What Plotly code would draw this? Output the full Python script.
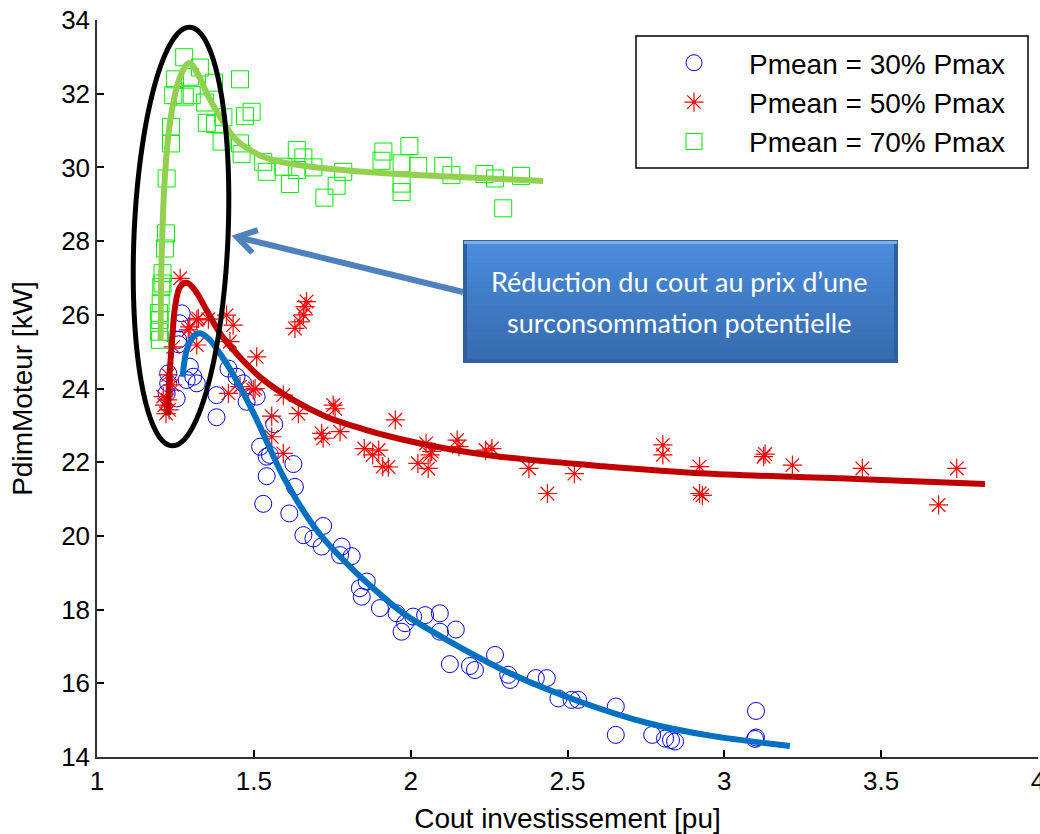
import math
import plotly.graph_objects as go

# ---------------- data ----------------
blue_x = [1.270, 1.264, 1.259, 1.227, 1.227, 1.222, 1.254, 1.296, 1.307, 1.318, 1.286, 1.381, 1.381,
          1.419, 1.445, 1.466, 1.509, 1.477, 1.520, 1.565, 1.541, 1.626, 1.541, 1.551, 1.631, 1.530,
          1.613, 1.721, 1.658, 1.690, 1.716, 1.780, 1.812, 1.775, 1.860, 1.838, 1.844, 1.902, 1.955,
          2.093, 2.046, 2.008, 1.982, 1.971, 2.093, 2.144, 2.125, 2.189, 2.205, 2.269, 2.311, 2.317,
          2.399, 2.434, 2.471, 2.513, 2.534, 2.654, 2.654, 2.770, 2.811, 2.830, 2.843, 3.101, 3.101,
          3.098, 1.260]
blue_y = [26.04, 25.77, 25.32, 24.41, 24.14, 23.87, 23.73, 24.59, 24.32, 24.14, 24.23, 23.82, 23.22,
          24.54, 24.32, 24.14, 23.78, 23.64, 22.42, 23.03, 22.15, 21.95, 21.62, 22.20, 21.33, 20.87,
          20.61, 20.27, 20.02, 19.93, 19.71, 19.71, 19.45, 19.48, 18.76, 18.58, 18.35, 18.04, 17.90,
          17.90, 17.85, 17.81, 17.63, 17.40, 17.40, 17.46, 16.52, 16.47, 16.36, 16.77, 16.23, 16.09,
          16.14, 16.14, 15.59, 15.55, 15.55, 15.37, 14.60, 14.60, 14.50, 14.46, 14.42, 15.25, 14.53,
          14.49, 25.20]

red_x = [1.265, 1.243, 1.291, 1.296, 1.318, 1.323, 1.355, 1.413, 1.434, 1.318, 1.424, 1.211, 1.215,
         1.220, 1.227, 1.225, 1.230, 1.240, 1.509, 1.419, 1.456, 1.498, 1.504, 1.594, 1.642, 1.557,
         1.557, 1.594, 1.668, 1.658, 1.647, 1.631, 1.663, 1.753, 1.759, 1.716, 1.775, 1.721, 1.951,
         1.852, 1.898, 1.879, 1.911, 1.929, 2.049, 2.023, 2.056, 2.062, 2.067, 2.148, 2.154, 2.259,
         2.239, 2.377, 2.436, 2.522, 2.804, 2.804, 2.921, 2.921, 2.930, 3.125, 3.130, 3.217, 3.440,
         3.683, 3.741]
red_y = [26.99, 25.13, 25.59, 25.67, 25.86, 25.90, 25.88, 25.99, 25.72, 25.18, 25.27, 23.78, 23.55,
         23.32, 24.37, 23.69, 23.42, 24.10, 24.86, 23.87, 24.05, 23.96, 24.00, 23.82, 23.32, 23.25,
         22.69, 22.24, 26.36, 26.00, 25.81, 25.63, 26.22, 23.55, 23.45, 22.78, 22.83, 22.65, 23.15,
         22.37, 22.33, 22.20, 21.88, 21.87, 22.51, 21.97, 21.83, 22.20, 22.29, 22.60, 22.42, 22.37,
         22.33, 21.83, 21.15, 21.69, 22.47, 22.20, 21.88, 21.15, 21.10, 22.15, 22.22, 21.92, 21.83,
         20.84, 21.83]

green_x = [1.278, 1.328, 1.249, 1.296, 1.373, 1.456, 1.243, 1.280, 1.302, 1.344, 1.493, 1.472, 1.236,
           1.350, 1.403, 1.376, 1.236, 1.397, 1.456, 1.461, 1.530, 1.541, 1.637, 1.658, 1.594, 1.637,
           1.690, 1.615, 1.785, 1.764, 1.725, 1.913, 1.907, 1.996, 1.971, 2.024, 1.971, 1.971, 2.104,
           2.130, 2.235, 2.269, 2.352, 2.295, 1.222, 1.220, 1.217, 1.209, 1.209, 1.203, 1.200, 1.198,
           1.201, 1.205, 1.198]
green_y = [32.99, 32.71, 32.39, 32.46, 32.30, 32.39, 31.96, 31.92, 31.96, 31.76, 31.51, 31.39, 31.10,
           31.21, 31.36, 31.18, 30.65, 30.70, 30.65, 30.36, 30.15, 29.88, 30.47, 30.27, 30.02, 29.93,
           30.00, 29.55, 29.88, 29.50, 29.18, 30.43, 30.18, 30.58, 30.11, 30.04, 29.33, 29.56, 30.04,
           29.79, 29.82, 29.70, 29.77, 28.89, 29.70, 28.21, 27.80, 27.13, 26.85, 26.31, 25.86, 25.54,
           25.32, 26.76, 26.05]

blue_fit_x = [1.273, 1.286, 1.307, 1.328, 1.355, 1.392, 1.456, 1.520, 1.594, 1.700, 1.807, 1.902,
              1.976, 2.115, 2.327, 2.540, 2.752, 2.954, 3.209]
blue_fit_y = [24.32, 25.04, 25.41, 25.50, 25.36, 24.95, 24.05, 22.96, 21.61, 20.16, 19.16, 18.42,
              17.90, 17.18, 16.23, 15.50, 14.93, 14.58, 14.30]

red_fit_x = [1.227, 1.230, 1.238, 1.249, 1.265, 1.286, 1.312, 1.349, 1.392, 1.434, 1.520, 1.625,
             1.727, 1.848, 1.966, 2.125, 2.285, 2.600, 2.922, 3.440, 3.831]
red_fit_y = [23.28, 24.23, 25.13, 26.22, 26.76, 26.87, 26.67, 26.13, 25.50, 25.05, 24.31, 23.69,
             23.25, 22.90, 22.63, 22.35, 22.15, 21.90, 21.70, 21.54, 21.41]

green_fit_x = [1.203, 1.204, 1.208, 1.2145, 1.227, 1.243, 1.265, 1.294, 1.323, 1.355, 1.392, 1.445,
               1.530, 1.637, 1.849, 2.125, 2.422]
green_fit_y = [25.30, 26.76, 28.12, 29.48, 30.83, 31.74, 32.46, 32.83, 32.51, 31.92, 31.38, 30.74,
               30.29, 30.07, 29.88, 29.75, 29.63]

series_names = ["Pmean = 30% Pmax", "Pmean = 50% Pmax", "Pmean = 70% Pmax"]
x_ticks = [1, 1.5, 2, 2.5, 3, 3.5, 4]
y_ticks = [14, 16, 18, 20, 22, 24, 26, 28, 30, 32, 34]
x_title = "Cout investissement [pu]"
y_title = "PdimMoteur [kW]"
box_lines = ["Réduction du cout au prix d’une", "surconsommation potentielle"]

# ---------------- layout geometry ----------------
W, H = 1040, 834
L, R, T, B = 97, 1038, 20, 757


def pp(px, py):
    return (px - L) / (R - L), (B - py) / (B - T)


fig = go.Figure()

fig.add_trace(go.Scatter(x=blue_x, y=blue_y, mode="markers", name=series_names[0],
                         marker=dict(symbol="circle-open", size=17, color="#0000FF",
                                     line=dict(width=1, color="#0000FF"))))
fig.add_trace(go.Scatter(x=red_x, y=red_y, mode="markers", name=series_names[1],
                         marker=dict(symbol="asterisk-open", size=16, color="#FF0000",
                                     line=dict(width=1.2, color="#FF0000"))))
fig.add_trace(go.Scatter(x=green_x, y=green_y, mode="markers", name=series_names[2],
                         marker=dict(symbol="square-open", size=17, color="#00EE00",
                                     line=dict(width=1, color="#00EE00"))))

for fx, fy, col in [(blue_fit_x, blue_fit_y, "#0070C0"),
                    (red_fit_x, red_fit_y, "#C00000"),
                    (green_fit_x, green_fit_y, "#92D050")]:
    fig.add_trace(go.Scatter(x=fx, y=fy, mode="lines", showlegend=False, hoverinfo="skip",
                             line=dict(color=col, width=6, shape="spline", smoothing=1.0)))

shapes = []

# legend frame
lf0 = pp(636, 168)
lf1 = pp(1028, 36)
shapes.append(dict(type="rect", xref="paper", yref="paper", x0=lf0[0], y0=lf0[1], x1=lf1[0], y1=lf1[1],
                   fillcolor="white", line=dict(color="black", width=1.5), layer="above"))

# ellipse (tilted) around the low-cost region
cx, cy = 181, 236.5
a, b = 209.5, 47
ux, uy = 9 / 211.5, -211.3 / 211.5
vx, vy = -uy, ux
pts = []
for i in range(121):
    t = 2 * math.pi * i / 120
    px = cx + a * math.cos(t) * ux + b * math.sin(t) * vx
    py = cy + a * math.cos(t) * uy + b * math.sin(t) * vy
    pts.append(pp(px, py))
path = "M " + " L ".join(f"{p[0]:.5f},{p[1]:.5f}" for p in pts) + " Z"
shapes.append(dict(type="path", xref="paper", yref="paper", path=path,
                   line=dict(color="black", width=5), layer="above"))

# arrow shaft + chevron head
tail = (463, 292)
tip = (237, 237)
dx, dy = tail[0] - tip[0], tail[1] - tip[1]
dl = math.hypot(dx, dy)
dx, dy = dx / dl, dy / dl
arms = []
for ang in (math.radians(32), math.radians(-32)):
    ax = dx * math.cos(ang) - dy * math.sin(ang)
    ay = dx * math.sin(ang) + dy * math.cos(ang)
    arms.append((tip[0] + 22 * ax, tip[1] + 22 * ay))
p_tail, p_tip = pp(*tail), pp(*tip)
p_a1, p_a2 = pp(*arms[0]), pp(*arms[1])
shapes.append(dict(type="path", xref="paper", yref="paper",
                   path=f"M {p_tail[0]},{p_tail[1]} L {p_tip[0]},{p_tip[1]}",
                   line=dict(color="#4F81BD", width=6), layer="above"))
shapes.append(dict(type="path", xref="paper", yref="paper",
                   path=f"M {p_a1[0]},{p_a1[1]} L {p_tip[0]},{p_tip[1]} L {p_a2[0]},{p_a2[1]}",
                   line=dict(color="#4F81BD", width=6), layer="above"))

# gradient text box
bx0, by0, bx1, by1 = 463, 240, 898, 363
shapes.append(dict(type="rect", xref="paper", yref="paper",
                   x0=pp(bx0, by0)[0], y0=pp(bx0, by1)[1], x1=pp(bx1, by0)[0], y1=pp(bx0, by0)[1],
                   fillcolor="#2F5F9E", line=dict(width=0), layer="above"))
n = 24
top_c = (74, 140, 220)
bot_c = (55, 108, 176)
inset = 4
for i in range(n):
    f = i / (n - 1)
    c = tuple(int(top_c[k] + (bot_c[k] - top_c[k]) * f) for k in range(3))
    ya = by0 + inset + (by1 - by0 - 2 * inset) * i / n
    yb = by0 + inset + (by1 - by0 - 2 * inset) * (i + 1) / n
    shapes.append(dict(type="rect", xref="paper", yref="paper",
                       x0=pp(bx0 + inset, 0)[0], x1=pp(bx1 - inset, 0)[0],
                       y0=pp(0, yb + 0.5)[1], y1=pp(0, ya)[1],
                       fillcolor=f"rgb{c}", line=dict(width=0), layer="above"))
# bevel highlight on top
shapes.append(dict(type="rect", xref="paper", yref="paper",
                   x0=pp(bx0 + 1, 0)[0], x1=pp(bx1 - 1, 0)[0],
                   y0=pp(0, by0 + inset)[1], y1=pp(0, by0 + 1)[1],
                   fillcolor="#7FAEE6", line=dict(width=0), layer="above"))

annotations = []
for i, txt in enumerate(box_lines):
    ax_, ay_ = pp((bx0 + bx1) / 2 - 2, 281 + 41 * i)
    annotations.append(dict(x=ax_, y=ay_, xref="paper", yref="paper", text=txt, showarrow=False,
                            font=dict(family="Lato, Open Sans, sans-serif", size=27, color="white"),
                            xanchor="center", yanchor="middle"))

lx, ly = pp(639, 38)

fig.update_layout(
    width=W, height=H, autosize=False,
    margin=dict(l=L, r=W - R, t=T, b=H - B, pad=0),
    plot_bgcolor="white", paper_bgcolor="white",
    font=dict(family="Liberation Sans, Arial, sans-serif", size=26, color="black"),
    xaxis=dict(range=[1, 4], tickvals=x_ticks, ticktext=[str(v) for v in x_ticks],
               showgrid=False, zeroline=False, showline=True, linecolor="#333333", linewidth=1.5,
               ticks="inside", ticklen=7, tickcolor="black", tickwidth=1.5,
               tickfont=dict(size=26), automargin=False, ticklabeloverflow="allow",
               title=dict(text=x_title, font=dict(size=28), standoff=14)),
    yaxis=dict(range=[14, 34], tickvals=y_ticks, ticktext=[str(v) for v in y_ticks],
               showgrid=False, zeroline=False, showline=True, linecolor="#333333", linewidth=1.5,
               ticks="inside", ticklen=7, tickcolor="black", tickwidth=1.5,
               tickfont=dict(size=26), automargin=False, ticklabeloverflow="allow",
               title=dict(text=y_title, font=dict(size=28), standoff=20)),
    legend=dict(x=lx, y=ly, xanchor="left", yanchor="top", bgcolor="rgba(0,0,0,0)",
                borderwidth=0, itemwidth=100,
                font=dict(size=28), tracegroupgap=0),
    shapes=shapes,
    annotations=annotations,
    showlegend=True,
)

fig.write_html("out.html", config={"displayModeBar": False},
               post_script="document.body.style.margin='0';document.body.style.overflow='hidden';")
